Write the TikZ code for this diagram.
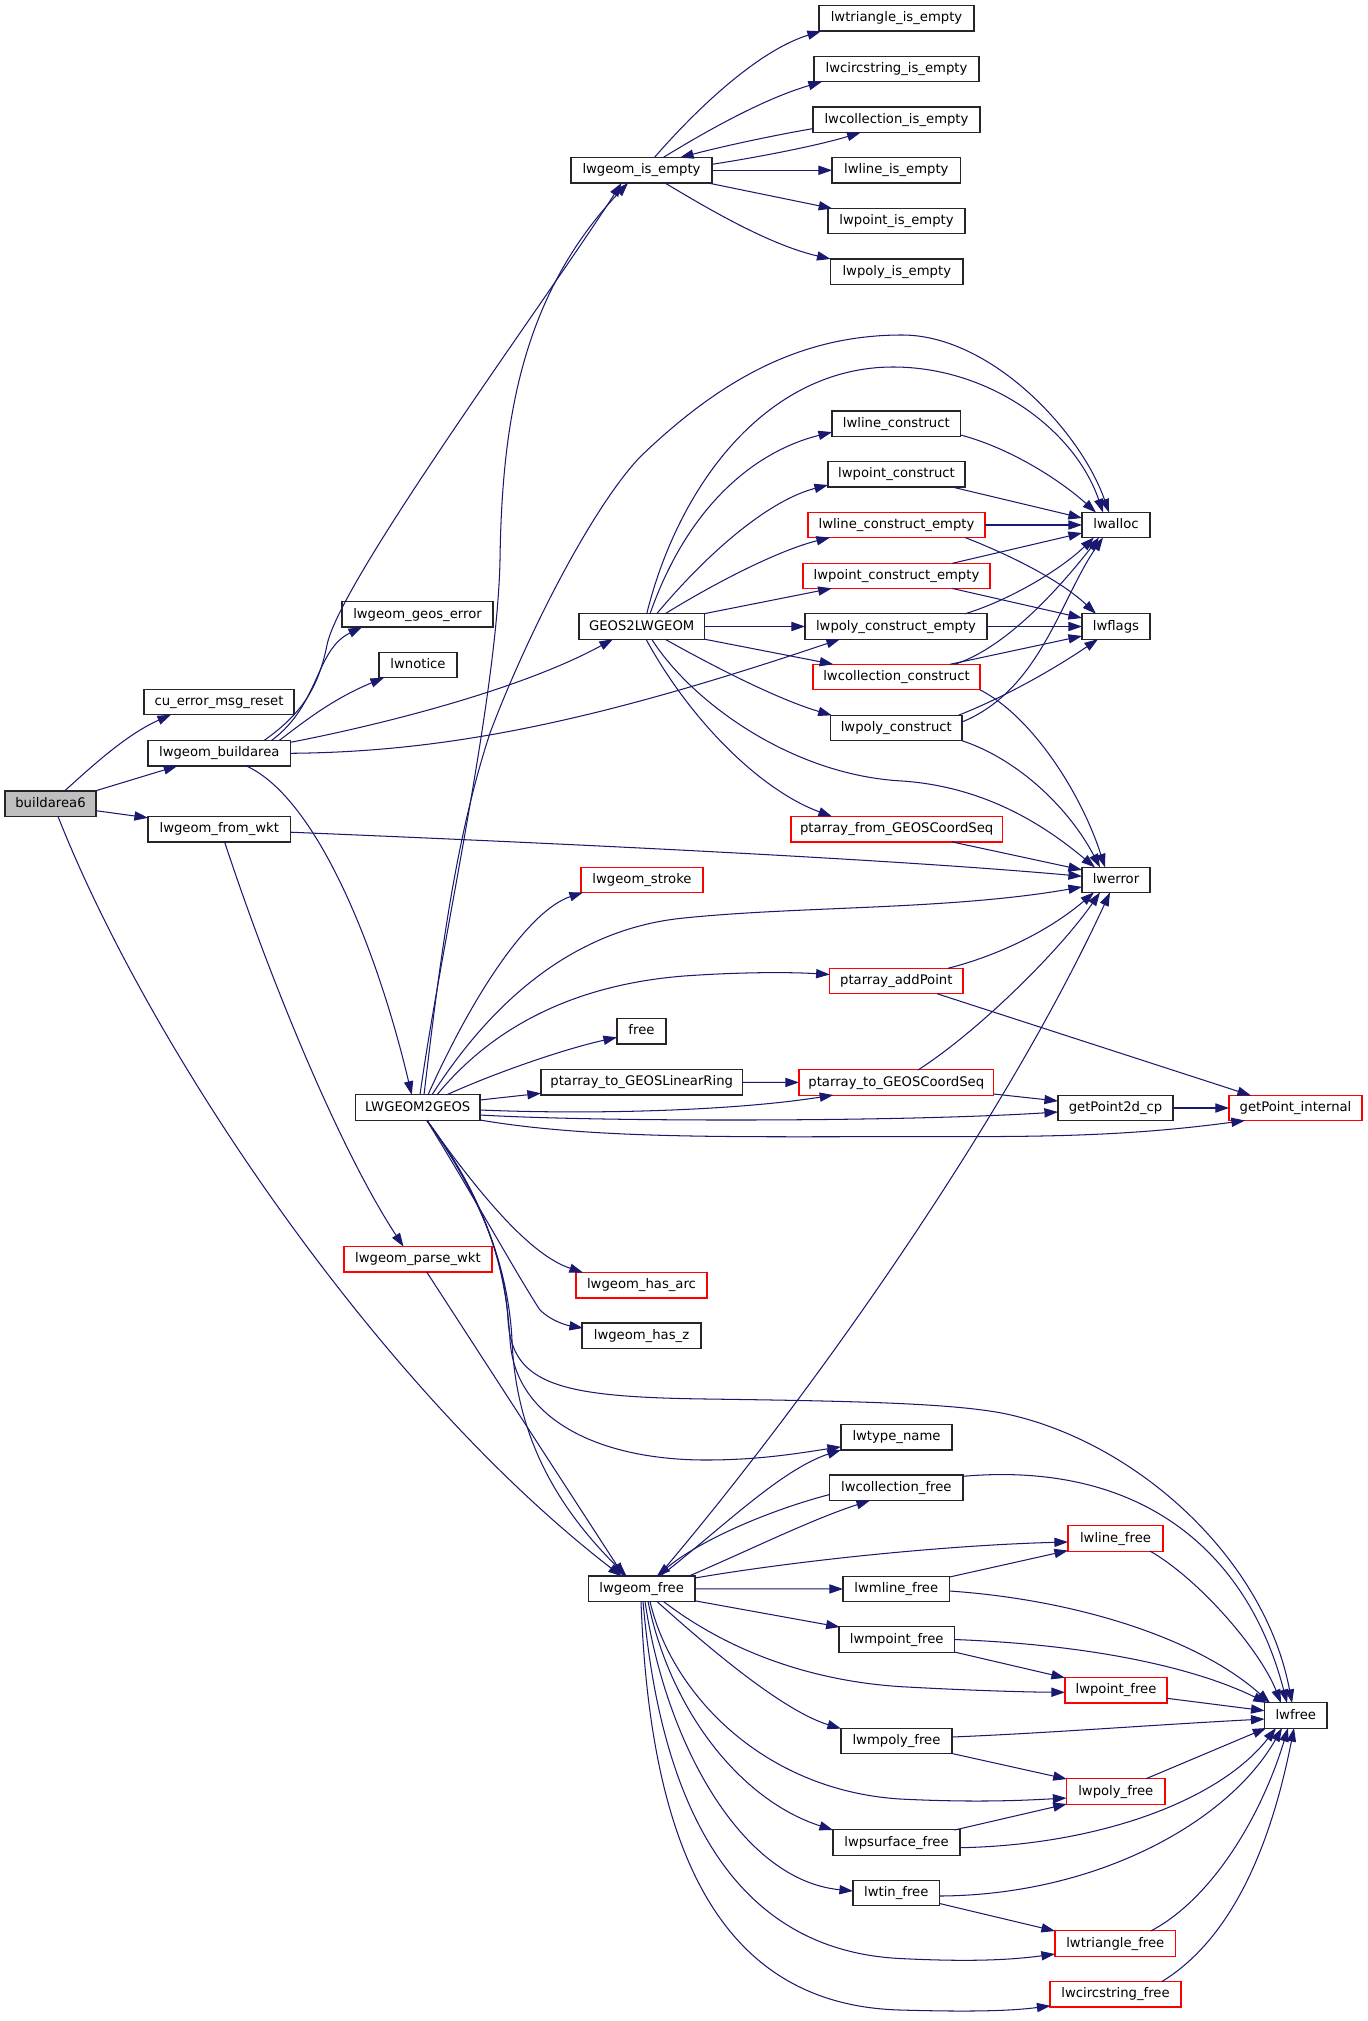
\documentclass[tikz,border=0pt]{standalone}
\usepackage{fontspec}
\setmainfont{DejaVu Sans}
\usetikzlibrary{arrows.meta}
\definecolor{edgec}{HTML}{191970}
\definecolor{redc}{HTML}{FF0000}
\definecolor{greyc}{HTML}{BFBFBF}
\definecolor{bordc}{HTML}{262626}
\tikzset{
 nd/.style={draw=bordc, line width=0.62pt, fill=white, inner sep=0pt, outer sep=0pt, minimum height=12.7pt, text height=5.1pt, text depth=1.5pt, font=\fontsize{6.6pt}{8pt}\selectfont},
 rednd/.style={draw=redc},
 startnd/.style={fill=greyc},
 e/.style={draw=edgec, line width=0.52pt, -{Triangle[length=6.8pt,width=4.6pt]}},
}
\newcommand\bx[6][]{\node[nd,#1,minimum width={#5*0.5pt}] (#2) at (#3,#4) {#6};}
\begin{document}
\begin{tikzpicture}[x=0.5pt,y=-0.5pt]
\fill[white] (0,0) rectangle (1368,2021);
\useasboundingbox (0,0) rectangle (1368,2021);
% nodes
\bx{tri_e}{896.5}{18.3}{155}{lwtriangle\_is\_empty}
\bx{circ_e}{896.5}{69.0}{165}{lwcircstring\_is\_empty}
\bx{coll_e}{896.5}{119.6}{167}{lwcollection\_is\_empty}
\bx{isempty}{641.5}{170.3}{141}{lwgeom\_is\_empty}
\bx{line_e}{896.3}{170.3}{128.5}{lwline\_is\_empty}
\bx{point_e}{896.5}{221.0}{137}{lwpoint\_is\_empty}
\bx{poly_e}{896.8}{271.7}{132.4}{lwpoly\_is\_empty}
\bx{linec}{896.3}{423.6}{128.5}{lwline\_construct}
\bx{pointc}{896.5}{474.3}{137}{lwpoint\_construct}
\bx[rednd]{lineec}{896.5}{525.0}{177}{lwline\_construct\_empty}
\bx{lwalloc}{1116}{525}{68}{lwalloc}
\bx[rednd]{pointec}{896.5}{575.9}{187}{lwpoint\_construct\_empty}
\bx{geoserr}{417.5}{614.4}{151}{lwgeom\_geos\_error}
\bx{g2l}{641.7}{626.5}{125.5}{GEOS2LWGEOM}
\bx{polyec}{896}{626.5}{182}{lwpoly\_construct\_empty}
\bx{lwflags}{1116}{626.5}{68}{lwflags}
\bx{notice}{418}{665}{78}{lwnotice}
\bx[rednd]{collc}{896.5}{677}{167}{lwcollection\_construct}
\bx{cuerr}{219}{702}{150}{cu\_error\_msg\_reset}
\bx{polyc}{896.3}{728}{131.4}{lwpoly\_construct}
\bx{buildarea}{219.3}{753.3}{142.5}{lwgeom\_buildarea}
\bx[startnd]{ba6}{50.5}{803.7}{91}{buildarea6}
\bx{fromwkt}{219.3}{829.2}{142.5}{lwgeom\_from\_wkt}
\bx[rednd]{pafrom}{896.7}{829.2}{211.4}{ptarray\_from\_GEOSCoordSeq}
\bx[rednd]{stroke}{642}{879.9}{122}{lwgeom\_stroke}
\bx{lwerror}{1116}{879.9}{68}{lwerror}
\bx[rednd]{addpt}{896.3}{981}{133.3}{ptarray\_addPoint}
\bx{free}{641.5}{1031.3}{49}{free}
\bx{palr}{641.7}{1082.3}{201.5}{ptarray\_to\_GEOSLinearRing}
\bx[rednd]{pacs}{896.3}{1082.5}{194.7}{ptarray\_to\_GEOSCoordSeq}
\bx{l2g}{417.7}{1107.5}{124.5}{LWGEOM2GEOS}
\bx{gp2d}{1115.5}{1108}{115}{getPoint2d\_cp}
\bx[rednd]{gpint}{1295.5}{1108}{133}{getPoint\_internal}
\bx[rednd]{parse}{418}{1259.3}{148}{lwgeom\_parse\_wkt}
\bx[rednd]{hasarc}{641.5}{1285.2}{131}{lwgeom\_has\_arc}
\bx{hasz}{641.5}{1335.8}{119}{lwgeom\_has\_z}
\bx{typename}{896.5}{1437.3}{111}{lwtype\_name}
\bx{collf}{896.3}{1487.8}{133.3}{lwcollection\_free}
\bx[rednd]{linef}{1115.5}{1538.5}{95}{lwline\_free}
\bx{gfree}{641.7}{1588.8}{106.5}{lwgeom\_free}
\bx{mlinef}{896.3}{1589}{106.6}{lwmline\_free}
\bx{mpointf}{896.7}{1639.5}{115.5}{lwmpoint\_free}
\bx[rednd]{pointf}{1116}{1690.3}{102}{lwpoint\_free}
\bx{lwfree}{1295.8}{1715.5}{62.4}{lwfree}
\bx{mpolyf}{896.5}{1741}{111}{lwmpoly\_free}
\bx[rednd]{polyf}{1115.8}{1791.5}{98.5}{lwpoly\_free}
\bx{psurff}{896.5}{1842.5}{127}{lwpsurface\_free}
\bx{tinf}{896.3}{1893}{86.6}{lwtin\_free}
\bx[rednd]{trif}{1115.3}{1943.5}{120.6}{lwtriangle\_free}
\bx[rednd]{circf}{1115.5}{1994.3}{131}{lwcircstring\_free}
% edges
\draw[e] ([shift={(14,-12.7)}]ba6.center) .. controls (88,770) and (125,735) .. ([shift={(-48,12.7)}]cuerr.center);
\draw[e] ([shift={(44.5,-12.7)}]ba6.center) -- ([shift={(-42,12.7)}]buildarea.center);
\draw[e] ([shift={(45.5,7)}]ba6.center) -- ([shift={(-71.25,-11.4)}]fromwkt.center);
\draw[e] ([shift={(7.5,12.7)}]ba6.center) .. controls (150,1050) and (380,1390) .. ([shift={(-20,-12.5)}]gfree.center);
\draw[e] ([shift={(44.6,-12.7)}]buildarea.center) .. controls (300,715) and (318,690) .. (327,645) .. controls (340,580) and (550,295) .. ([shift={(-20,12.7)}]isempty.center);
\draw[e] ([shift={(52,-12.7)}]buildarea.center) .. controls (320,705) and (315,650) .. ([shift={(-55.5,12.7)}]geoserr.center);
\draw[e] ([shift={(59.7,-12.7)}]buildarea.center) .. controls (300,725) and (330,700) .. ([shift={(-34,12.7)}]notice.center);
\draw[e] ([shift={(71.25,-11)}]buildarea.center) .. controls (380,725) and (520,690) .. ([shift={(-28.7,12.7)}]g2l.center);
\draw[e] ([shift={(71.25,0)}]buildarea.center) .. controls (450,752) and (600,720) .. ([shift={(-56,12.7)}]polyec.center);
\draw[e] ([shift={(27.2,12.7)}]buildarea.center) .. controls (320,800) and (380,960) .. ([shift={(-6,-12.7)}]l2g.center);
\draw[e] ([shift={(71.25,3)}]fromwkt.center) .. controls (600,845) and (900,860) .. ([shift={(-34,-3.6)}]lwerror.center);
\draw[e] ([shift={(5.3,12.7)}]fromwkt.center) .. controls (270,980) and (340,1150) .. ([shift={(-14.5,-12.7)}]parse.center);
\draw[e] ([shift={(8.7,12.7)}]parse.center) -- ([shift={(-17.7,-12.5)}]gfree.center);
% lwgeom_is_empty
\draw[e] ([shift={(12.8,-12.7)}]isempty.center) .. controls (700,105) and (760,50) .. ([shift={(-75.5,12.9)}]tri_e.center);
\draw[e] ([shift={(21.5,-12.7)}]isempty.center) .. controls (700,135) and (760,100) .. ([shift={(-74.5,12.7)}]circ_e.center);
\draw[e] ([shift={(70.5,-6)}]isempty.center) .. controls (760,157) and (820,145) .. ([shift={(-35.8,12.9)}]coll_e.center);
\draw[e] ([shift={(-83.5,9)}]coll_e.center) .. controls (770,136) and (720,147) .. ([shift={(38.5,-12.7)}]isempty.center);
\draw[e] (isempty) -- (line_e);
\draw[e] ([shift={(66.5,12.7)}]isempty.center) -- ([shift={(-64.2,-12.5)}]point_e.center);
\draw[e] ([shift={(23.5,12.7)}]isempty.center) .. controls (710,210) and (770,245) .. ([shift={(-66.2,-12.7)}]poly_e.center);
% GEOS2LWGEOM
\draw[e] ([shift={(5,-12.7)}]g2l.center) .. controls (680,480) and (770,367) .. (893,367) .. controls (990,367) and (1075,430) .. ([shift={(-13,-12.5)}]lwalloc.center);
\draw[e] ([shift={(8.3,-12.7)}]g2l.center) .. controls (690,500) and (760,450) .. ([shift={(-64.25,8.5)}]linec.center);
\draw[e] ([shift={(15,-12.7)}]g2l.center) .. controls (710,550) and (770,500) .. ([shift={(-68.5,10.7)}]pointc.center);
\draw[e] ([shift={(23.3,-12.7)}]g2l.center) .. controls (720,580) and (780,550) .. ([shift={(-66.5,12.5)}]lineec.center);
\draw[e] ([shift={(62,-12.7)}]g2l.center) -- ([shift={(-64.8,12.5)}]pointec.center);
\draw[e] (g2l) -- (polyec);
\draw[e] ([shift={(62.75,12.7)}]g2l.center) -- ([shift={(-63.2,-12.7)}]collc.center);
\draw[e] ([shift={(23.3,12.7)}]g2l.center) .. controls (720,670) and (780,700) .. ([shift={(-64.5,-12.7)}]polyc.center);
\draw[e] ([shift={(10,12.7)}]g2l.center) .. controls (690,700) and (790,775) .. (902,781) .. controls (990,787) and (1050,830) .. ([shift={(-21,-12.5)}]lwerror.center);
\draw[e] ([shift={(4.3,12.7)}]g2l.center) .. controls (690,720) and (760,790) .. ([shift={(-64.7,-12.7)}]pafrom.center);
% constructors
\draw[e] ([shift={(64.25,11.4)}]linec.center) .. controls (1010,448) and (1060,480) .. ([shift={(-20,-12.5)}]lwalloc.center);
\draw[e] ([shift={(55.5,12.7)}]pointc.center) -- ([shift={(-34,-7)}]lwalloc.center);
\draw[e] (lineec) -- (lwalloc);
\draw[e] ([shift={(68.5,12.5)}]lineec.center) .. controls (1010,555) and (1060,580) .. ([shift={(-20,-12.7)}]lwflags.center);
\draw[e] ([shift={(55.5,-12.5)}]pointec.center) -- ([shift={(-34,8)}]lwalloc.center);
\draw[e] ([shift={(55.5,12.5)}]pointec.center) -- ([shift={(-34,-8.5)}]lwflags.center);
\draw[e] ([shift={(69,-12.7)}]polyec.center) .. controls (1010,600) and (1060,570) .. ([shift={(-22,12.5)}]lwalloc.center);
\draw[e] (polyec) -- (lwflags);
\draw[e] ([shift={(58,-12.7)}]collc.center) .. controls (1000,650) and (1050,600) .. ([shift={(-17,12.5)}]lwalloc.center);
\draw[e] ([shift={(53.5,-12.7)}]collc.center) -- ([shift={(-34,9.5)}]lwflags.center);
\draw[e] ([shift={(83.2,12.7)}]collc.center) .. controls (1030,715) and (1080,790) .. ([shift={(-11,-12.5)}]lwerror.center);
\draw[e] ([shift={(65.7,-6)}]polyc.center) .. controls (1040,690) and (1060,600) .. ([shift={(-13,12.5)}]lwalloc.center);
\draw[e] ([shift={(62,-12.7)}]polyc.center) .. controls (1010,695) and (1060,665) .. ([shift={(-18,12.7)}]lwflags.center);
\draw[e] ([shift={(65.7,12.7)}]polyc.center) .. controls (1020,760) and (1070,810) .. ([shift={(-16,-12.5)}]lwerror.center);
\draw[e] ([shift={(55.3,12.7)}]pafrom.center) -- ([shift={(-34,-10)}]lwerror.center);
% LWGEOM2GEOS
\draw[e] ([shift={(2.3,-12.7)}]l2g.center) .. controls (440,950) and (497,700) .. (500,560) .. controls (502,420) and (522,295) .. ([shift={(-13.5,12.7)}]isempty.center);
\draw[e] ([shift={(6.3,-12.7)}]l2g.center) .. controls (440,960) and (455,840) .. (490,733) .. controls (525,640) and (590,510) .. (640,457) .. controls (720,380) and (800,335) .. (902,335) .. controls (990,335) and (1080,430) .. ([shift={(-7,-12.5)}]lwalloc.center);
\draw[e] ([shift={(10.3,-12.7)}]l2g.center) .. controls (475,990) and (530,910) .. ([shift={(-59,12.5)}]stroke.center);
\draw[e] ([shift={(14.3,-12.7)}]l2g.center) .. controls (480,1020) and (560,930) .. (684,918) .. controls (800,906) and (950,910) .. ([shift={(-34,7)}]lwerror.center);
\draw[e] ([shift={(19.3,-12.7)}]l2g.center) .. controls (490,1030) and (570,985) .. (684,976) .. controls (740,972) and (790,972) .. ([shift={(-66.6,-6.5)}]addpt.center);
\draw[e] ([shift={(29,-12.7)}]l2g.center) .. controls (490,1075) and (560,1050) .. ([shift={(-24.5,6)}]free.center);
\draw[e] ([shift={(62.25,-7.5)}]l2g.center) -- ([shift={(-100.75,11)}]palr.center);
\draw[e] ([shift={(62.25,2.5)}]l2g.center) .. controls (600,1115) and (740,1110) .. ([shift={(-63,12.5)}]pacs.center);
\draw[e] ([shift={(62.25,7.5)}]l2g.center) .. controls (600,1122) and (900,1122) .. ([shift={(-57.5,4)}]gp2d.center);
\draw[e] ([shift={(62.25,12.5)}]l2g.center) .. controls (580,1137) and (700,1137) .. (850,1136.7) .. controls (1000,1136) and (1100,1140) .. ([shift={(-50.5,12.5)}]gpint.center);
\draw[e] ([shift={(9,12.7)}]l2g.center) .. controls (480,1195) and (530,1255) .. ([shift={(-58.5,-12.7)}]hasarc.center);
\draw[e] ([shift={(9,12.7)}]l2g.center) .. controls (470,1190) and (520,1280) .. (540,1310) .. controls (550,1320) and (565,1325) .. ([shift={(-58.5,-7.8)}]hasz.center);
\draw[e] ([shift={(9,12.7)}]l2g.center) .. controls (480,1195) and (505,1260) .. (508,1320) .. controls (512,1385) and (560,1397) .. (706,1399) .. controls (850,1401) and (960,1403) .. (1011,1415) .. controls (1140,1445) and (1265,1560) .. ([shift={(-3.8,-12.5)}]lwfree.center);
\draw[e] ([shift={(9,12.7)}]l2g.center) .. controls (475,1185) and (505,1250) .. (510,1340) .. controls (515,1420) and (600,1460) .. (706,1460) .. controls (760,1460) and (800,1453) .. ([shift={(-55.5,9.5)}]typename.center);
\draw[e] ([shift={(9,12.7)}]l2g.center) .. controls (475,1185) and (508,1260) .. (512,1340) .. controls (516,1440) and (560,1510) .. ([shift={(-15,-12.5)}]gfree.center);
% ptarray
\draw[e] (palr) -- (pacs);
\draw[e] ([shift={(21.7,-12.5)}]pacs.center) .. controls (980,1030) and (1060,950) .. ([shift={(-16,12.5)}]lwerror.center);
\draw[e] ([shift={(97.35,11.5)}]pacs.center) -- ([shift={(-57.5,-7)}]gp2d.center);
\draw[e] ([shift={(51.7,-12.7)}]addpt.center) .. controls (1000,955) and (1050,930) .. ([shift={(-22,12.5)}]lwerror.center);
\draw[e] ([shift={(40.7,12.7)}]addpt.center) -- ([shift={(-44.5,-12.5)}]gpint.center);
\draw[e] (gp2d) -- (gpint);
% lwgeom_free
\draw[e] ([shift={(16.3,-12.5)}]gfree.center) .. controls (800,1410) and (1000,1130) .. ([shift={(-6,12.5)}]lwerror.center);
\draw[e] ([shift={(18.3,-12.5)}]gfree.center) .. controls (720,1530) and (780,1470) .. ([shift={(-55.5,12.5)}]typename.center);
\draw[e] ([shift={(-66.6,6.7)}]collf.center) .. controls (770,1510) and (700,1540) .. ([shift={(15,-12.5)}]gfree.center);
\draw[e] ([shift={(46.6,-12.5)}]gfree.center) .. controls (750,1550) and (810,1520) .. ([shift={(-26.3,12.7)}]collf.center);
\draw[e] ([shift={(53.25,-10.8)}]gfree.center) .. controls (800,1560) and (950,1545) .. ([shift={(-47.5,3.5)}]linef.center);
\draw[e] (gfree) -- (mlinef);
\draw[e] ([shift={(53.25,12)}]gfree.center) -- ([shift={(-57,-12.5)}]mpointf.center);
\draw[e] ([shift={(21.6,12.5)}]gfree.center) .. controls (720,1645) and (800,1680) .. (900,1686.6) .. controls (960,1690) and (1020,1692) .. ([shift={(-51,2)}]pointf.center);
\draw[e] ([shift={(15,12.5)}]gfree.center) .. controls (700,1640) and (780,1710) .. ([shift={(-55.5,-12.4)}]mpolyf.center);
\draw[e] ([shift={(8.3,12.5)}]gfree.center) .. controls (670,1690) and (760,1790) .. (900,1799) .. controls (980,1803) and (1030,1800) .. ([shift={(-49.3,6.5)}]polyf.center);
\draw[e] ([shift={(6.3,12.5)}]gfree.center) .. controls (670,1710) and (740,1800) .. ([shift={(-63.5,-12.5)}]psurff.center);
\draw[e] ([shift={(3.3,12.5)}]gfree.center) .. controls (665,1740) and (740,1880) .. ([shift={(-43.3,-2)}]tinf.center);
\draw[e] ([shift={(1.3,12.5)}]gfree.center) .. controls (660,1800) and (730,1950) .. (900,1958.5) .. controls (970,1962) and (1010,1960) .. ([shift={(-60.3,10.5)}]trif.center);
\draw[e] ([shift={(-0.7,12.5)}]gfree.center) .. controls (650,1850) and (720,2005) .. (900,2010) .. controls (970,2012) and (1010,2011) .. ([shift={(-65,11.5)}]circf.center);
% free functions
\draw[e] ([shift={(53.3,-12)}]mlinef.center) -- ([shift={(-47.5,12)}]linef.center);
\draw[e] ([shift={(53.3,2)}]mlinef.center) .. controls (1080,1600) and (1200,1640) .. ([shift={(-25.8,-12.5)}]lwfree.center);
\draw[e] ([shift={(57.7,12.5)}]mpointf.center) -- ([shift={(-51,-12.5)}]pointf.center);
\draw[e] ([shift={(57.7,0)}]mpointf.center) .. controls (1100,1645) and (1200,1670) .. ([shift={(-29,-12.5)}]lwfree.center);
\draw[e] ([shift={(34.5,12.5)}]linef.center) .. controls (1200,1580) and (1260,1650) .. ([shift={(-14.8,-12.5)}]lwfree.center);
\draw[e] ([shift={(66.6,-11.5)}]collf.center) .. controls (1150,1460) and (1250,1560) .. ([shift={(-8.8,-12.5)}]lwfree.center);
\draw[e] ([shift={(51,8)}]pointf.center) -- ([shift={(-31.2,-4.8)}]lwfree.center);
\draw[e] ([shift={(55.5,-4)}]mpolyf.center) .. controls (1050,1733) and (1150,1725) .. ([shift={(-31.2,3.5)}]lwfree.center);
\draw[e] ([shift={(55.5,12.5)}]mpolyf.center) -- ([shift={(-49,-12.5)}]polyf.center);
\draw[e] ([shift={(30,-12.7)}]polyf.center) -- ([shift={(-29.5,12.5)}]lwfree.center);
\draw[e] ([shift={(58,-12.5)}]psurff.center) -- ([shift={(-49,12.5)}]polyf.center);
\draw[e] ([shift={(63.5,5.2)}]psurff.center) .. controls (1100,1845) and (1220,1800) .. ([shift={(-19.8,12.5)}]lwfree.center);
\draw[e] ([shift={(43.3,3)}]tinf.center) .. controls (1100,1895) and (1230,1820) .. ([shift={(-13.8,12.5)}]lwfree.center);
\draw[e] ([shift={(43.3,10.5)}]tinf.center) -- ([shift={(-60.3,-12.5)}]trif.center);
\draw[e] ([shift={(35.4,-12.5)}]trif.center) .. controls (1210,1900) and (1260,1820) .. ([shift={(-7.8,12.5)}]lwfree.center);
\draw[e] ([shift={(46.1,-12.6)}]circf.center) .. controls (1230,1940) and (1270,1850) .. ([shift={(-1.8,12.5)}]lwfree.center);
\end{tikzpicture}
\end{document}
